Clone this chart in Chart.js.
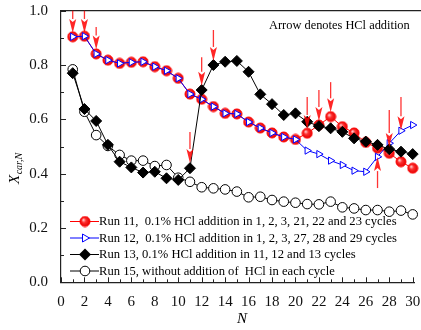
<!DOCTYPE html>
<html>
<head>
<meta charset="utf-8">
<script src="https://cdn.jsdelivr.net/npm/chart.js@4.4.1/dist/chart.umd.min.js"></script>
<style>
  html, body { margin: 0; padding: 0; background: #fff; }
  #chart { display: block; }
</style>
</head>
<body>
<canvas id="chart" width="421" height="330"></canvas>
<script>
// cycle number N
const cycles = [1, 2, 3, 4, 5, 6, 7, 8, 9, 10, 11, 12, 13, 14, 15,
                16, 17, 18, 19, 20, 21, 22, 23, 24, 25, 26, 27, 28, 29, 30];

// X_car,N
const run11 = [0.904, 0.906, 0.841, 0.818, 0.806, 0.810, 0.812, 0.794, 0.779, 0.751,
               0.693, 0.674, 0.647, 0.622, 0.620, 0.590, 0.568, 0.550, 0.535, 0.526,
               0.549, 0.579, 0.610, 0.573, 0.550, 0.515, 0.494, 0.475, 0.444, 0.420];
const run12 = [0.904, 0.906, 0.841, 0.818, 0.806, 0.810, 0.812, 0.794, 0.779, 0.751,
               0.693, 0.674, 0.647, 0.622, 0.620, 0.590, 0.568, 0.550, 0.535, 0.526,
               0.485, 0.472, 0.448, 0.432, 0.411, 0.407, 0.462, 0.512, 0.558, 0.579];
const run13 = [0.770, 0.638, 0.594, 0.506, 0.444, 0.423, 0.404, 0.407, 0.383, 0.377,
               0.420, 0.708, 0.800, 0.812, 0.815, 0.775, 0.692, 0.656, 0.616, 0.622,
               0.591, 0.575, 0.567, 0.554, 0.530, 0.518, 0.506, 0.490, 0.481, 0.472];
const run15 = [0.784, 0.628, 0.542, 0.502, 0.469, 0.448, 0.448, 0.428, 0.432, 0.385,
               0.370, 0.350, 0.346, 0.342, 0.334, 0.313, 0.315, 0.303, 0.297, 0.293,
               0.288, 0.287, 0.297, 0.276, 0.272, 0.266, 0.266, 0.260, 0.264, 0.250];

const seriesLabels = [
  'Run 11,  0.1% HCl addition in 1, 2, 3, 21, 22 and 23 cycles',
  'Run 12,  0.1% HCl addition in 1, 2, 3, 27, 28 and 29 cycles',
  'Run 13, 0.1% HCl addition in 11, 12 and 13 cycles',
  'Run 15, without addition of  HCl in each cycle'
];

const xTicks = [0, 2, 4, 6, 8, 10, 12, 14, 16, 18, 20, 22, 24, 26, 28, 30];
const yTicks = [0.0, 0.2, 0.4, 0.6, 0.8, 1.0];

// HCl addition arrows: [N, from, to]
const arrows = [
  [1, 1.0, 0.918], [2, 1.0, 0.918], [3, 0.940, 0.857],
  [11, 0.553, 0.439], [12, 0.829, 0.724], [13, 0.929, 0.815],
  [21, 0.682, 0.564], [22, 0.708, 0.594], [23, 0.737, 0.626],
  [27, 0.347, 0.461], [28, 0.634, 0.498], [29, 0.682, 0.560]
];

const serif = '"Liberation Serif", "Times New Roman", serif';

function toPoints(vals) {
  return vals.map((v, i) => ({ x: cycles[i], y: v }));
}

// shaded red ball like the original marker
function redBall(r) {
  const size = 2 * r + 2;
  const c = document.createElement('canvas');
  c.width = size; c.height = size;
  const g = c.getContext('2d');
  const m = size / 2;
  const grad = g.createRadialGradient(m - r * 0.35, m - r * 0.35, 0.3, m, m, r);
  grad.addColorStop(0, '#ffd6d6');
  grad.addColorStop(0.4, '#ff3030');
  grad.addColorStop(1, '#e00000');
  g.fillStyle = grad;
  g.beginPath();
  g.arc(m, m, r, 0, Math.PI * 2);
  g.fill();
  g.strokeStyle = '#ff0000';
  g.lineWidth = 1;
  g.stroke();
  return c;
}
const ball = redBall(5);

function drawSymbol(ctx, i, cx, cy) {
  ctx.save();
  ctx.lineWidth = 1;
  if (i === 0) {
    ctx.drawImage(ball, cx - ball.width / 2, cy - ball.height / 2);
  } else if (i === 1) {
    ctx.strokeStyle = '#0000ff';
    ctx.fillStyle = '#fff';
    ctx.beginPath();
    ctx.moveTo(cx + 4.5, cy);
    ctx.lineTo(cx - 2.5, cy - 4);
    ctx.lineTo(cx - 2.5, cy + 4);
    ctx.closePath();
    ctx.fill(); ctx.stroke();
  } else if (i === 2) {
    ctx.fillStyle = '#000';
    ctx.beginPath();
    ctx.moveTo(cx, cy - 6); ctx.lineTo(cx + 6, cy);
    ctx.lineTo(cx, cy + 6); ctx.lineTo(cx - 6, cy);
    ctx.closePath(); ctx.fill();
  } else {
    ctx.strokeStyle = '#000';
    ctx.fillStyle = '#fff';
    ctx.beginPath();
    ctx.arc(cx, cy, 4.8, 0, Math.PI * 2);
    ctx.fill(); ctx.stroke();
  }
  ctx.restore();
}

const decor = {
  id: 'decor',
  afterDatasetsDraw(chart) {
    const { ctx, chartArea: a, scales: { x, y } } = chart;
    ctx.save();
    // top frame line
    ctx.strokeStyle = '#222';
    ctx.lineWidth = 1.2;
    ctx.beginPath();
    ctx.moveTo(a.left, a.top);
    ctx.lineTo(421, a.top);
    ctx.stroke();

    // inward tick marks
    ctx.lineWidth = 1;
    ctx.beginPath();
    for (let n = 0; n <= 30; n++) {
      const px = Math.round(x.getPixelForValue(n)) + 0.5;
      const len = n % 2 === 0 ? 5 : 3;
      ctx.moveTo(px, a.bottom);
      ctx.lineTo(px, a.bottom - len);
    }
    for (let k = 0; k <= 10; k++) {
      const py = Math.round(y.getPixelForValue(k / 10)) + 0.5;
      const len = k % 2 === 0 ? 5 : 3;
      ctx.moveTo(a.left, py);
      ctx.lineTo(a.left + len, py);
    }
    ctx.stroke();

    // arrows
    ctx.strokeStyle = 'rgba(255,0,0,0.8)';
    ctx.fillStyle = 'rgba(255,0,0,0.85)';
    ctx.lineWidth = 1.3;
    arrows.forEach(([n, from, to]) => {
      const px = x.getPixelForValue(n);
      const y0 = y.getPixelForValue(from);
      const y1 = y.getPixelForValue(to);
      const dir = Math.sign(y1 - y0);
      const head = 14;
      ctx.beginPath();
      ctx.moveTo(px, y0);
      ctx.lineTo(px, y1 - dir * head);
      ctx.stroke();
      ctx.beginPath();
      ctx.moveTo(px, y1);
      ctx.lineTo(px - 3.5, y1 - dir * head);
      ctx.lineTo(px, y1 - dir * (head - 3));
      ctx.lineTo(px + 3.5, y1 - dir * head);
      ctx.closePath();
      ctx.fill();
    });
    ctx.restore();
  },
  afterDraw(chart) {
    const { ctx } = chart;
    ctx.save();
    ctx.fillStyle = '#000';

    // note
    ctx.font = '12.4px ' + serif;
    ctx.textAlign = 'left';
    ctx.textBaseline = 'alphabetic';
    ctx.fillText('Arrow denotes HCl addition', 269, 29);

    // legend
    const colors = ['#ff0000', '#0000ff', '#000', '#000'];
    const rows = [221, 237.5, 254, 270.5];
    ctx.font = '12.6px ' + serif;
    ctx.textBaseline = 'middle';
    seriesLabels.forEach((label, i) => {
      const ry = rows[i];
      ctx.strokeStyle = colors[i];
      ctx.lineWidth = 1;
      ctx.beginPath();
      ctx.moveTo(70, ry + 0.5);
      ctx.lineTo(99, ry + 0.5);
      ctx.stroke();
      drawSymbol(ctx, i, 85, ry + 0.5);
      ctx.fillStyle = '#000';
      ctx.fillText(label, 99, ry + 1);
    });

    // axis titles
    ctx.textBaseline = 'alphabetic';
    ctx.font = 'italic 15px ' + serif;
    ctx.textAlign = 'center';
    ctx.fillText('N', 242, 323);

    ctx.translate(19, 184);
    ctx.rotate(-Math.PI / 2);
    ctx.textAlign = 'left';
    ctx.fillText('X', 0, 0);
    const w = ctx.measureText('X').width;
    ctx.font = 'italic 10px ' + serif;
    ctx.fillText('car,N', w + 0.5, 3);
    ctx.restore();
  }
};

const tickFont = { family: serif, size: 15 };

const chart = new Chart(document.getElementById('chart'), {
  type: 'line',
  data: {
    datasets: [
      {
        label: seriesLabels[0], data: toPoints(run11), order: 2,
        borderColor: '#ff0000', borderWidth: 1,
        pointStyle: ball, pointRadius: 5
      },
      {
        label: seriesLabels[1], data: toPoints(run12), order: 1,
        borderColor: '#0000ff', borderWidth: 1,
        pointStyle: 'triangle', rotation: 90, pointRadius: 4.2,
        pointBackgroundColor: '#fff', pointBorderColor: '#0000ff', pointBorderWidth: 1
      },
      {
        label: seriesLabels[2], data: toPoints(run13), order: 0,
        borderColor: '#000', borderWidth: 1,
        pointStyle: 'rectRot', pointRadius: 5.5,
        pointBackgroundColor: '#000', pointBorderColor: '#000'
      },
      {
        label: seriesLabels[3], data: toPoints(run15), order: 3,
        borderColor: '#000', borderWidth: 1,
        pointStyle: 'circle', pointRadius: 4.8,
        pointBackgroundColor: '#fff', pointBorderColor: '#000', pointBorderWidth: 1
      }
    ]
  },
  options: {
    responsive: false,
    devicePixelRatio: 1,
    animation: false,
    events: [],
    clip: false,
    layout: { padding: { top: 10.7, right: 0, left: 0, bottom: 0 } },
    plugins: { legend: { display: false }, tooltip: { enabled: false } },
    scales: {
      x: {
        type: 'linear', min: 0, max: 30.7,
        afterBuildTicks: s => { s.ticks = xTicks.map(v => ({ value: v })); },
        afterFit: s => { s.height = 47.7; s.paddingLeft = 0; s.paddingRight = 0; },
        grid: { display: false },
        border: { display: true, color: '#222', width: 1.2 },
        ticks: { font: tickFont, color: '#111', padding: 3, maxRotation: 0, autoSkip: false }
      },
      y: {
        min: 0, max: 1.0,
        afterBuildTicks: s => { s.ticks = yTicks.map(v => ({ value: v })); },
        afterFit: s => { s.width = 61; s.paddingTop = 0; s.paddingBottom = 0; },
        grid: { display: false },
        border: { display: true, color: '#222', width: 1.2 },
        ticks: { font: tickFont, color: '#111', padding: 5, callback: v => v.toFixed(1) }
      }
    }
  },
  plugins: [decor]
});

// the original axis runs past the right edge: N = 30 sits at about x = 412.7
const area = chart.chartArea;
chart.options.scales.x.max = 30 * (area.right - area.left) / (412.7 - area.left);
chart.update();
</script>
</body>
</html>
